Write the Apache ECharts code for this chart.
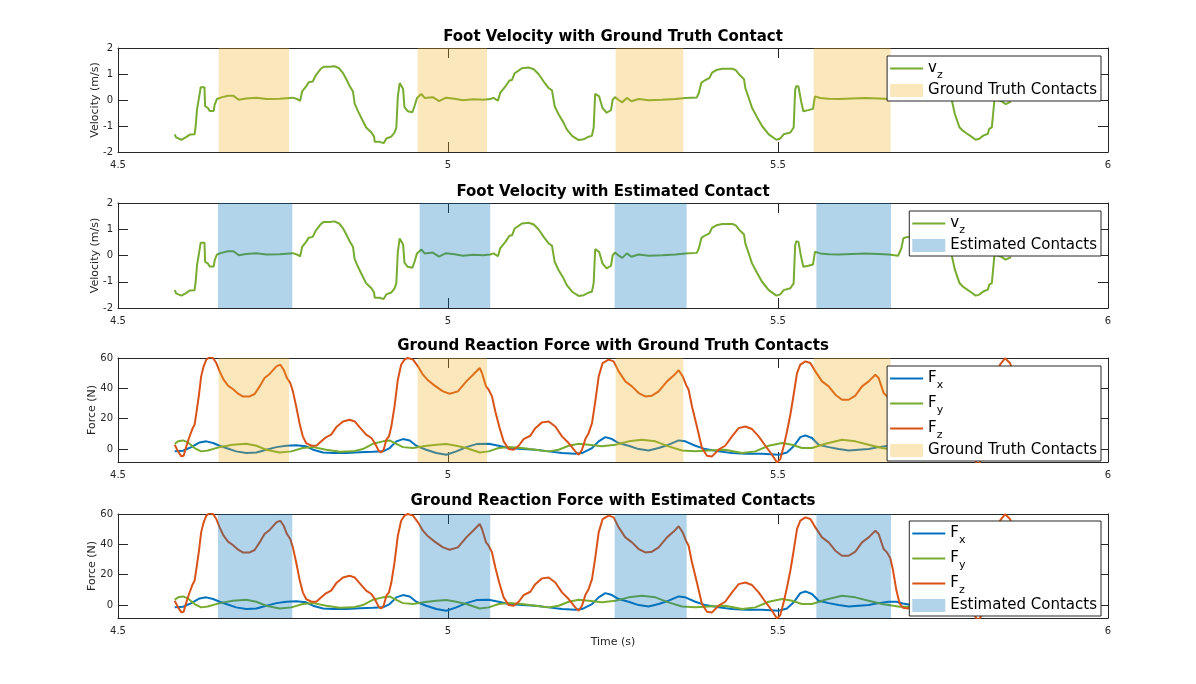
<!DOCTYPE html>
<html><head><meta charset="utf-8">
<script src="https://cdn.jsdelivr.net/npm/echarts@6/dist/echarts.min.js"></script>
<style>html,body{margin:0;padding:0;background:#fff}#c{width:1196px;height:684px}</style>
</head><body><div id="c"></div>
<script>
// ---------------- DATA ----------------
const titles = [
  'Foot Velocity with Ground Truth Contact',
  'Foot Velocity with Estimated Contact',
  'Ground Reaction Force with Ground Truth Contacts',
  'Ground Reaction Force with Estimated Contacts'
];
const xTicks = [4.5, 5, 5.5, 6];
const velTicks = [-2, -1, 0, 1, 2];
const forceTicks = [0, 20, 40, 60];

const gtStart  = [4.6525, 4.954, 5.254, 5.554];
const gtEnd    = [4.7591, 5.0591, 5.3566, 5.6707];
const estStart = [4.6515, 4.957, 5.2525, 5.5581];
const estEnd   = [4.7641, 5.064, 5.3616, 5.6712];

const vzT = [4.586,4.588,4.596,4.6025,4.609,4.616,4.6177,4.6197,4.6227,4.6253,4.628,4.631,4.632,4.636,4.639,4.645,4.6465,4.650,4.6566,4.6667,4.675,4.683,4.694,4.7096,4.7247,4.745,4.765,4.771,4.776,4.779,4.785,4.789,4.795,4.800,4.8066,4.8116,4.8207,4.828,4.835,4.841,4.846,4.851,4.856,4.8586,4.8636,4.871,4.876,4.884,4.888,4.889,4.8965,4.9025,4.9066,4.914,4.919,4.9217,4.924,4.9268,4.929,4.932,4.934,4.939,4.946,4.9495,4.953,4.9596,4.9646,4.977,4.9864,4.997,5.010,5.0227,5.038,5.053,5.064,5.069,5.0757,5.079,5.087,5.093,5.097,5.101,5.107,5.112,5.122,5.130,5.1374,5.145,5.1525,5.1576,5.1616,5.1677,5.175,5.180,5.188,5.198,5.2056,5.213,5.218,5.2207,5.223,5.2258,5.229,5.234,5.2404,5.247,5.2495,5.253,5.258,5.264,5.271,5.278,5.2889,5.304,5.3242,5.3444,5.3596,5.377,5.380,5.384,5.390,5.396,5.400,5.4066,5.4157,5.431,5.436,5.442,5.4485,5.4505,5.4566,5.4606,5.468,5.4758,5.486,5.4975,5.5035,5.5086,5.5187,5.5237,5.526,5.5278,5.531,5.535,5.5384,5.546,5.553,5.556,5.559,5.564,5.5768,5.592,5.6121,5.632,5.6525,5.6677,5.682,5.6848,5.687,5.690,5.695,5.702,5.712,5.720,5.735,5.745,5.752,5.758,5.763,5.768,5.775,5.780,5.785,5.793,5.7995,5.805,5.811,5.818,5.820,5.824,5.828,5.830,5.838,5.845,5.853];
const vzV = [-1.32,-1.44,-1.53,-1.44,-1.33,-1.32,-1.0,-0.37,0.08,0.49,0.52,0.49,-0.24,-0.30,-0.42,-0.42,-0.18,0.04,0.10,0.16,0.16,0.01,0.06,0.09,0.04,0.05,0.09,0.04,-0.03,0.33,0.52,0.68,0.71,0.96,1.18,1.28,1.28,1.30,1.22,1.03,0.80,0.54,0.33,-0.14,-0.43,-0.81,-1.06,-1.25,-1.41,-1.61,-1.61,-1.66,-1.48,-1.41,-1.25,-1.06,0.14,0.65,0.62,0.42,-0.27,-0.43,-0.47,-0.22,0.08,0.23,0.08,0.11,-0.04,0.09,0.05,-0.01,0.03,0.01,0.04,0.08,-0.03,0.27,0.52,0.75,0.77,1.03,1.13,1.22,1.25,1.18,0.99,0.71,0.46,0.37,-0.24,-0.56,-0.87,-1.13,-1.38,-1.54,-1.51,-1.41,-1.38,-1.06,0.24,0.30,0.14,-0.30,-0.49,-0.39,0.01,0.11,0.01,-0.09,0.08,-0.05,0.04,-0.01,0.01,0.04,0.08,0.10,0.27,0.67,0.77,0.84,1.05,1.15,1.20,1.20,1.15,0.96,0.80,0.46,0.01,-0.30,-0.65,-1.0,-1.32,-1.53,-1.48,-1.32,-1.25,-1.06,0.39,0.54,0.52,-0.05,-0.43,-0.39,-0.34,0.14,0.16,0.08,0.05,0.04,0.06,0.08,0.06,0.04,-0.01,-0.04,0.28,0.66,0.70,0.72,0.95,1.15,1.22,1.12,0.85,0.45,0.03,-0.54,-1.05,-1.18,-1.27,-1.41,-1.53,-1.49,-1.37,-1.30,-1.11,-1.05,0.03,0.09,-0.04,-0.16,-0.06];

const fzT = [4.5859,4.591,4.596,4.5995,4.6035,4.6076,4.6126,4.616,4.6187,4.6227,4.626,4.6298,4.6338,4.639,4.644,4.649,4.654,4.660,4.6667,4.674,4.682,4.689,4.6995,4.707,4.7146,4.722,4.7298,4.740,4.746,4.751,4.756,4.761,4.765,4.770,4.775,4.780,4.785,4.793,4.8005,4.808,4.8157,4.823,4.8308,4.841,4.851,4.8586,4.866,4.876,4.884,4.889,4.8955,4.899,4.9025,4.9066,4.9106,4.914,4.919,4.924,4.929,4.934,4.939,4.947,4.9545,4.962,4.9697,4.9798,4.9924,5.0025,5.015,5.0278,5.038,5.048,5.0515,5.0576,5.0616,5.0667,5.0717,5.0778,5.0843,5.092,5.0995,5.1071,5.1146,5.1247,5.1323,5.1424,5.1525,5.1626,5.1727,5.1828,5.1929,5.198,5.203,5.2081,5.213,5.2182,5.2232,5.2283,5.2343,5.2434,5.251,5.2586,5.2687,5.2788,5.2889,5.299,5.3091,5.3192,5.3318,5.3419,5.3495,5.3556,5.3606,5.3646,5.3697,5.3773,5.3848,5.3924,5.400,5.410,5.420,5.4303,5.4404,5.4505,5.4606,5.4707,5.4808,5.4909,5.4985,5.5035,5.5086,5.5136,5.5187,5.5237,5.5288,5.5338,5.5414,5.549,5.5566,5.5667,5.5768,5.5869,5.597,5.6071,5.6172,5.6273,5.6374,5.6475,5.6525,5.6601,5.6652,5.6702,5.6742,5.6793,5.6843,5.6894,5.697,5.702,5.710,5.720,5.735,5.750,5.765,5.780,5.790,5.795,5.799,5.803,5.8075,5.812,5.818,5.825,5.831,5.8363,5.8439,5.8515,5.857];
const fzV = [2.9,-1.5,-4.8,-4.4,1.8,7.3,13.2,16.0,23.7,35.8,47.9,54.5,58.9,60.7,60.0,56.7,51.2,45.7,41.8,39.6,36.5,34.7,34.7,36.3,41.3,46.8,49.5,54.5,55.6,52.3,46.8,43.5,38.0,28.1,17.1,8.4,4.0,2.2,2.2,5.1,7.9,9.5,14.5,18.2,19.3,18.2,14.5,9.5,7.3,4.0,-1.5,-2.2,-0.4,6.2,8.4,14.5,28.1,45.7,55.6,58.9,60.0,58.9,54.5,49.0,45.3,41.8,38.0,36.5,38.0,44.6,49.0,53.4,50.1,41.3,39.1,34.7,24.8,14.5,5.1,0,-0.4,2.2,6.6,8.8,13.8,17.6,18.2,14.9,8.4,4.0,-1.5,-3.7,-0.4,6.6,10.5,17.1,31.4,47.9,56.7,58.9,57.8,51.2,44.6,41.3,36.9,34.7,35.2,38.0,44.6,48.4,51.9,47.9,42.4,39.1,28.1,14.5,0.7,-4.4,-4.8,-0.4,2.2,8.4,13.8,14.9,13.2,8.4,2.2,-3.7,-8.8,-6.6,1.8,11.6,22.6,35.8,50.1,55.6,57.8,56.7,51.2,44.6,41.3,35.8,32.5,32.5,35.2,41.3,44.6,49.0,46.8,36.9,34.7,30.8,23.1,9.9,1.1,-1.8,-2.2,-1.1,0.5,4,10,14,11,3,-2,-4,-7.5,-10.5,-7.5,-2,8,28,45,55.6,59.8,56.7,50];

const fxT = [4.5859,4.5985,4.611,4.6237,4.6338,4.644,4.654,4.664,4.679,4.6944,4.7096,4.7247,4.740,4.755,4.770,4.785,4.7955,4.8106,4.826,4.846,4.866,4.886,4.9015,4.9116,4.9217,4.9318,4.942,4.952,4.967,4.9823,4.9975,5.0126,5.0278,5.043,5.0616,5.0768,5.092,5.1121,5.1323,5.1525,5.1727,5.1929,5.203,5.2182,5.2283,5.2384,5.2485,5.2586,5.2737,5.2889,5.304,5.3192,5.3343,5.3495,5.3596,5.3747,5.3899,5.4101,5.4303,5.4505,5.4758,5.501,5.5136,5.5237,5.5338,5.5414,5.5515,5.5616,5.5768,5.5919,5.6071,5.6222,5.6374,5.6525,5.6677,5.6793,5.6894,5.702,5.720,5.745,5.770,5.795,5.810,5.825,5.840,5.857];
const fxV = [-1.5,-1.1,1.3,4.4,5.1,4.0,2.2,0.7,-1.5,-2.6,-2.2,-0.4,1.3,2.2,2.6,1.8,-0.4,-2.2,-2.6,-2.6,-2.0,-1.8,-1.5,0.7,5.1,6.6,5.7,2.2,-0.4,-2.6,-3.7,-1.5,1.3,3.3,3.5,2.2,0.7,0,-0.4,-1.5,-2.6,-3.1,-2.6,0.7,5.1,7.9,6.6,4.0,2.2,0,-0.9,0.7,2.9,5.7,5.1,2.2,0,-1.5,-2.6,-3.1,-3.1,-3.7,-2.2,1.8,7.9,9.0,7.3,2.9,1.3,0,-0.9,-0.4,0,1.3,2.2,2.2,1.1,0,-1.2,-2.5,-3,-3.2,-1.5,3,6.5,5];

const fyT = [4.5859,4.591,4.5985,4.606,4.616,4.626,4.636,4.654,4.674,4.6944,4.7096,4.7247,4.745,4.7626,4.780,4.7955,4.8157,4.836,4.856,4.871,4.886,4.9015,4.9116,4.9217,4.9318,4.947,4.962,4.9823,4.9975,5.0126,5.0278,5.048,5.0616,5.0768,5.092,5.1121,5.1323,5.1525,5.1677,5.1828,5.198,5.2131,5.2333,5.2535,5.2737,5.2939,5.3141,5.3343,5.3545,5.3747,5.3949,5.4201,5.4455,5.4657,5.4859,5.5061,5.5212,5.5364,5.5515,5.5717,5.597,5.6172,5.6374,5.6576,5.6843,5.702,5.725,5.750,5.775,5.800,5.820,5.840,5.857];
const fyV = [3.5,5.1,5.7,4.4,0.7,-1.5,-0.9,1.3,2.9,3.5,2.2,-0.4,-2.2,-1.5,0.7,1.3,-0.4,-1.8,-1.5,0,3.5,5.1,5.7,3.5,1.3,0.7,1.8,2.9,3.3,2.2,0.7,-2.2,-1.5,0.7,1.3,0.7,-0.4,-1.5,-0.4,2.2,3.5,2.9,1.8,2.9,5.1,6.2,5.1,1.8,-0.9,-1.5,-0.9,-0.4,-2.6,-1.5,2.2,4.0,2.9,0.7,0.7,3.5,6.2,5.1,2.9,0.7,-1.1,-1.1,-1.8,-1.5,0.5,3,4.2,2,0];

// ---------------- CHART ----------------
const FONT = 'DejaVu Sans';
const AX = '#262626';
const C_GREEN = '#77AC30', C_BLUE = '#0072BD', C_ORANGE = '#D95319';
const C_GT = 'rgba(237,177,32,0.3)', C_EST = 'rgba(0,114,189,0.3)';
const pairs = (t, v) => t.map((x, i) => [x, v[i]]);

const gridDefs = [{top: 48, height: 104}, {top: 203, height: 105}, {top: 358, height: 104}, {top: 514, height: 104}];
const grid = gridDefs.map(g => ({left: 118, width: 990, top: g.top, height: g.height}));

const xAxis = [], yAxis = [];
gridDefs.forEach((g, i) => {
  const common = {
    type: 'value', gridIndex: i, splitLine: {show: false},
    axisLine: {show: true, onZero: false, lineStyle: {color: AX, width: 1}},
    axisTick: {show: true, inside: true, length: 10, lineStyle: {color: AX, width: 1}}
  };
  const xb = Object.assign({}, common, {
    position: 'bottom', min: xTicks[0], max: xTicks[xTicks.length - 1], interval: 0.5,
    axisLabel: {show: true, color: AX, fontSize: 10, fontFamily: FONT, margin: 8}
  });
  if (i === 3) Object.assign(xb, {name: 'Time (s)', nameLocation: 'middle', nameGap: 19, nameMoveOverlap: false,
    nameTextStyle: {color: AX, fontSize: 11, fontFamily: FONT}});
  xAxis.push(xb);
  xAxis.push(Object.assign({}, common, {position: 'top', min: xTicks[0], max: xTicks[xTicks.length - 1], interval: 0.5, axisLabel: {show: false}}));

  const isVel = i < 2;
  const ticks = isVel ? velTicks : forceTicks;
  const ymin = isVel ? -2 : -8.5, ymax = isVel ? 2 : 60;
  const yl = Object.assign({}, common, {
    position: 'left', min: ymin, max: ymax,
    axisTick: Object.assign({}, common.axisTick, {customValues: ticks}),
    axisLabel: {show: true, color: AX, fontSize: 10, fontFamily: FONT, margin: 5, customValues: ticks},
    name: isVel ? 'Velocity (m/s)' : 'Force (N)', nameLocation: 'middle', nameGap: isVel ? 17 : 20,
    nameMoveOverlap: false,
    nameTextStyle: {color: AX, fontSize: 11, fontFamily: FONT}
  });
  yAxis.push(yl);
  yAxis.push(Object.assign({}, common, {
    position: 'right', min: ymin, max: ymax,
    axisTick: Object.assign({}, common.axisTick, {customValues: ticks}),
    axisLabel: {show: false}
  }));
});

function contactSeries(name, starts, ends, color, gi) {
  return {
    type: 'custom', name: name, xAxisIndex: gi * 2, yAxisIndex: gi * 2, z: 3, clip: true,
    itemStyle: {color: color},
    data: starts.map((s, k) => [s, ends[k]]),
    encode: {x: [0, 1]},
    renderItem: function (params, api) {
      const cs = params.coordSys;
      const x0 = api.coord([api.value(0), 0])[0];
      const x1 = api.coord([api.value(1), 0])[0];
      return {type: 'rect', shape: {x: x0, y: cs.y, width: x1 - x0, height: cs.height}, style: {fill: color}};
    }
  };
}
function lineSeries(name, data, color, gi) {
  return {type: 'line', name: name, xAxisIndex: gi * 2, yAxisIndex: gi * 2, data: data,
    symbol: 'none', showSymbol: false, z: 2, clip: true,
    lineStyle: {width: 2, color: color}, itemStyle: {color: color}};
}

const vz = pairs(vzT, vzV), fx = pairs(fxT, fxV), fy = pairs(fyT, fyV), fz = pairs(fzT, fzV);
const series = [
  lineSeries('v_z', vz, C_GREEN, 0), contactSeries('Ground Truth Contacts', gtStart, gtEnd, C_GT, 0),
  lineSeries('v_z', vz, C_GREEN, 1), contactSeries('Estimated Contacts', estStart, estEnd, C_EST, 1),
  lineSeries('F_x', fx, C_BLUE, 2), lineSeries('F_y', fy, C_GREEN, 2), lineSeries('F_z', fz, C_ORANGE, 2),
  contactSeries('Ground Truth Contacts', gtStart, gtEnd, C_GT, 2),
  lineSeries('F_x', fx, C_BLUE, 3), lineSeries('F_y', fy, C_GREEN, 3), lineSeries('F_z', fz, C_ORANGE, 3),
  contactSeries('Estimated Contacts', estStart, estEnd, C_EST, 3)
];

// line-only legend glyph (33 x 13 box, 2px bar in the middle)
const LINE_ICON = 'path://M0,0L0.01,0Z M0,5.5L33,5.5L33,7.5L0,7.5Z M0,13L0.01,13Z';
const subMap = {'v_z': '{m|v}{s|z}', 'F_x': '{m|F}{s|x}', 'F_y': '{m|F}{s|y}', 'F_z': '{m|F}{s|z}'};
function legendAt(top, names) {
  return {
    orient: 'vertical', right: 95, top: top, itemWidth: 33, itemHeight: 13, itemGap: 0,
    padding: [0, 4, 1, 3], backgroundColor: '#fff', borderColor: AX, borderWidth: 1, borderRadius: 0,
    selectedMode: false, z: 10,
    data: names.map(n => /Contacts/.test(n) ? {name: n, icon: 'rect'} : {name: n, icon: LINE_ICON}),
    formatter: n => subMap[n] || n,
    textStyle: {fontFamily: FONT, fontSize: 15, color: '#000', lineHeight: 19,
      rich: {m: {fontFamily: FONT, fontSize: 15, lineHeight: 25, color: '#000'},
             s: {fontFamily: FONT, fontSize: 11, lineHeight: 11, verticalAlign: 'bottom', color: '#000'}}}
  };
}
const legend = [
  legendAt(56, ['v_z', 'Ground Truth Contacts']),
  legendAt(211, ['v_z', 'Estimated Contacts']),
  legendAt(366, ['F_x', 'F_y', 'F_z', 'Ground Truth Contacts']),
  legendAt(521, ['F_x', 'F_y', 'F_z', 'Estimated Contacts'])
];

const titleY = [37, 192, 346, 501];
const graphic = titles.map((t, i) => ({
  type: 'text', x: 613, y: titleY[i], z: 20,
  style: {text: t, fontFamily: FONT, fontSize: 15, fontWeight: 'bold', fill: '#000',
    align: 'center', verticalAlign: 'middle', textAlign: 'center', textVerticalAlign: 'middle'}
}));

const chart = echarts.init(document.getElementById('c'), null, {renderer: 'canvas'});
chart.setOption({animation: false, backgroundColor: '#fff', grid, xAxis, yAxis, series, legend, graphic});
</script></body></html>
